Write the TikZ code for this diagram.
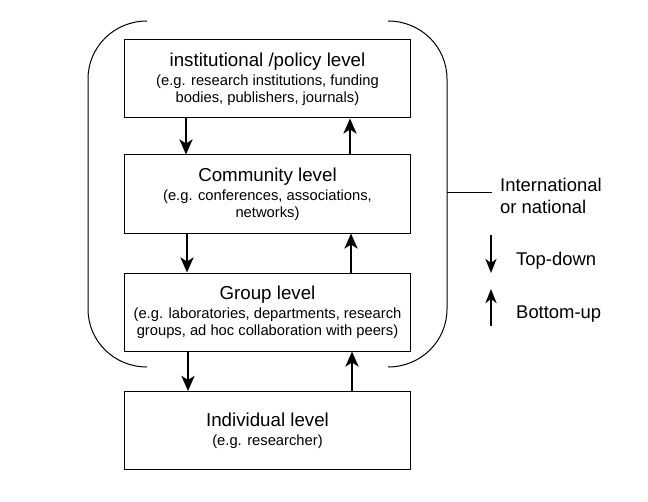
\documentclass[tikz,border=0pt]{standalone}
\usepackage{fontspec}
\setmainfont{Liberation Sans}
\usetikzlibrary{arrows.meta}
\newcommand{\ttl}{\fontsize{18.8}{19}\selectfont}
\newcommand{\sbt}{\fontsize{14.8}{16.7}\selectfont}
\tikzset{
  levelbox/.style={draw, line width=1bp, minimum width=286bp, minimum height=78bp, align=center, inner sep=0pt, font=\sbt},
  flow/.style={line width=2.8bp, -{Stealth[length=15bp,width=13bp,inset=4bp]}},
  legarrow/.style={line width=2.6bp, -{Stealth[length=14bp,width=11bp,inset=4bp]}},
  thin/.style={line width=1bp},
  labeltext/.style={font=\fontsize{18.5}{22}\selectfont, align=left, inner sep=0pt, anchor=west}
}
\begin{document}
\begin{tikzpicture}[x=1bp,y=-1bp]
\useasboundingbox (0,0) rectangle (648,502);
\node[levelbox] (inst) at (267.5,79) {\ttl institutional /policy level\\[2.5bp](e.g. research institutions, funding\\bodies, publishers, journals)};
\node[levelbox] (comm) at (267.5,194) {\ttl Community level\\[2.5bp](e.g. conferences, associations,\\networks)};
\node[levelbox] (grp) at (267.5,312) {\ttl Group level\\[2.5bp](e.g. laboratories, departments, research\\groups, ad hoc collaboration with peers)};
\node[levelbox] (ind) at (267.5,430.5) {\ttl Individual level\\[2.5bp](e.g. researcher)};
% arrows between levels
\draw[flow] (inst.south -| 186,0) -- (comm.north -| 186,0);
\draw[flow] (comm.north -| 350,0) -- (inst.south -| 350,0);
\draw[flow] (comm.south -| 187,0) -- (grp.north -| 187,0);
\draw[flow] (grp.north -| 351,0) -- (comm.south -| 351,0);
\draw[flow] (grp.south -| 188,0) -- (ind.north -| 188,0);
\draw[flow] (ind.north -| 352,0) -- (grp.south -| 352,0);
% bracket
\draw[thin] (147,21) .. controls (114,21) and (88,47) .. (88,79) -- (88,309) .. controls (88,341) and (114,367) .. (147,367);
\draw[thin] (388,21) .. controls (421,21) and (447,47) .. (447,79) -- (447,309) .. controls (447,341) and (421,367) .. (388,367);
\coordinate (brk) at (447,193);
\node[labeltext] (intl) at (500,196) {International\\or national};
\draw[thin] (brk) -- (492,193);
% legend
\coordinate (td1) at (491,235);
\coordinate (td2) at (491,273);
\coordinate (bu1) at (491,326);
\coordinate (bu2) at (491,289);
\draw[legarrow] (td1) -- (td2);
\draw[legarrow] (bu1) -- (bu2);
\node[labeltext] (td) at (516,261) {Top-down};
\node[labeltext] (bu) at (516,314) {Bottom-up};
\end{tikzpicture}
\end{document}
